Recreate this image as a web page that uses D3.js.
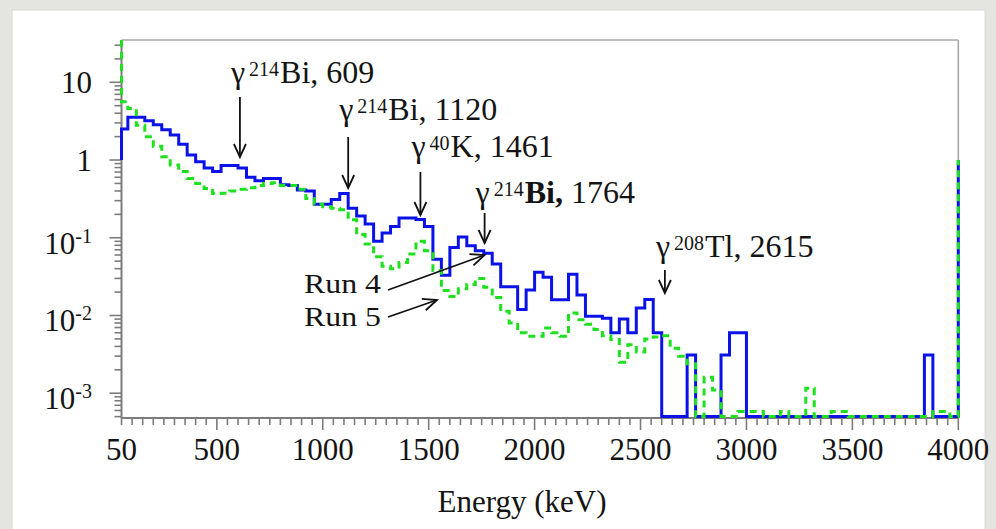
<!DOCTYPE html>
<html>
<head>
<meta charset="utf-8">
<script src="https://cdn.jsdelivr.net/npm/d3@7/dist/d3.min.js"></script>
<style>
  html, body { margin:0; padding:0; background:#e4e4e0; }
  svg { display:block; }
  text { font-family: "Liberation Serif", "Times New Roman", "DejaVu Serif", serif; fill:#141414; }
</style>
</head>
<body>
<svg id="chart" width="996" height="529"></svg>
<script>
// ---------------- DATA ----------------
// lower edges of the 40 keV energy bins (first bin clipped at 50 keV), upper end 4000 keV
const binLowEdges = [50,80,120,160,200,240,280,320,360,400,440,480,520,560,600,640,680,720,760,800,
  840,880,920,960,1000,1040,1080,1120,1160,1200,1240,1280,1320,1360,1400,1440,1480,1520,1560,1600,
  1640,1680,1720,1760,1800,1840,1880,1920,1960,2000,2040,2080,2120,2160,2200,2240,2280,2320,2360,2400,
  2440,2480,2520,2560,2600,2640,2680,2720,2760,2800,2840,2880,2920,2960,3000,3040,3080,3120,3160,3200,
  3240,3280,3320,3360,3400,3440,3480,3520,3560,3600,3640,3680,3720,3760,3800,3840,3880,3920,3960];
const energyMax = 4000;

// Run 4 (blue, solid)
const run4Values = [2.5,3.55,3.55,3.2,2.85,2.45,2.1,1.6,1.16,0.95,
  0.79,0.71,0.85,0.85,0.79,0.6,0.54,0.58,0.58,0.48,
  0.47,0.41,0.40,0.27,0.27,0.31,0.37,0.24,0.19,0.15,
  0.09,0.115,0.14,0.18,0.18,0.172,0.14,0.053,0.033,0.075,
  0.102,0.079,0.068,0.063,0.046,0.0234,0.0234,0.0119,0.0213,0.036,
  0.031,0.0159,0.0159,0.034,0.0184,0.0098,0.0098,0.0092,0.006,0.009,
  0.006,0.0125,0.016,0.006,0,0,0,0.0031,0,0,
  0,0.0031,0.006,0.006,0,0,0,0,0,0,
  0,0,0,0,0,0,0,0,0,0,
  0,0,0,0,0,0.0031,0,0,0];
// Run 5 (green, dashed)
const run5Values = [5.6,4.6,2.8,2.0,1.5,1.1,0.86,0.71,0.58,0.5,
  0.43,0.37,0.375,0.40,0.42,0.44,0.47,0.5,0.51,0.47,
  0.47,0.42,0.32,0.27,0.25,0.24,0.23,0.17,0.11,0.083,
  0.057,0.043,0.04,0.048,0.062,0.09,0.068,0.038,0.021,0.0175,
  0.022,0.025,0.030,0.023,0.017,0.0113,0.008,0.006,0.0054,0.0054,
  0.0069,0.006,0.0054,0.0108,0.0088,0.0077,0.0066,0.0055,0.0049,0.0025,
  0.0042,0.0034,0.005,0.0053,0.0055,0.0038,0.003,0.0024,0,0.0016,
  0.0011,0,0,0.00058,0.00058,0.00058,0,0,0.00058,0,
  0,0.00116,0,0,0.00058,0.00058,0,0,0,0,
  0,0,0,0,0,0,0.00058,0.00058,0];
// heights of the edge markers drawn at 50 keV and 4000 keV
const run4EdgeValues = [1.0, 1.0];
const run5EdgeValues = [40, 1.0];

const xTickValues = [50,500,1000,1500,2000,2500,3000,3500,4000];
const yTickValues = [10,1,0.1,0.01,0.001];
const yTickBases  = ["10","1","10","10","10"];
const yTickExps   = ["","","-1","-2","-3"];

// peak annotations: energy (keV), isotope mass number, element
const peakEnergies = [609,1120,1461,1764,2615];
const peakIsotopes = ["214","214","40","214","208"];
const peakElements = ["Bi","Bi","K","Bi","Tl"];
const runNames = ["Run 4","Run 5"];

// ---------------- LAYOUT ----------------
const svg = d3.select("#chart");
const plot = {left:121.5, right:958.3, top:40, bottom:418};
const x = d3.scaleLinear().domain([50, energyMax]).range([plot.left, plot.right]);
const y = d3.scaleLog().domain([4.8e-4, 35]).range([plot.bottom, plot.top]).clamp(true);
const floorVal = 5e-4;   // empty bins are drawn on the axis floor

// white panel
svg.append("rect").attr("x",12).attr("y",10).attr("width",973).attr("height",530)
  .attr("fill","#ffffff").attr("stroke","#d8d8d4").attr("stroke-width",1);

// frame (top / right)
const axisCol = "#7c7c7c";
svg.append("line").attr("x1",plot.left).attr("x2",plot.right).attr("y1",plot.top).attr("y2",plot.top)
  .attr("stroke","#a8a8a8").attr("stroke-width",1.6);
svg.append("line").attr("x1",plot.right).attr("x2",plot.right).attr("y1",plot.top).attr("y2",plot.bottom)
  .attr("stroke","#a8a8a8").attr("stroke-width",1.6);

// x axis ticks
const gx = svg.append("g");
const minorX = d3.range(50, energyMax + 1, 50);
gx.selectAll("line.minor").data(minorX).join("line")
  .attr("x1",d=>x(d)).attr("x2",d=>x(d)).attr("y1",plot.bottom)
  .attr("y2",d=> (d % 500 === 0) ? plot.bottom + 12 : plot.bottom + 7)
  .attr("stroke",axisCol).attr("stroke-width",1.6);
gx.selectAll("text").data(xTickValues).join("text")
  .attr("x",d=>x(d)).attr("y",460).attr("text-anchor","middle")
  .attr("font-size",31).text(d=>d);
svg.append("line").attr("x1",plot.left).attr("x2",plot.right).attr("y1",plot.bottom).attr("y2",plot.bottom)
  .attr("stroke",axisCol).attr("stroke-width",2);

// y axis ticks
const gy = svg.append("g");
const yMinor = [];
for (let d = -4; d <= 1; d++) for (let k = 1; k <= 9; k++) {
  const v = k * Math.pow(10, d);
  if (v >= y.domain()[0] && v <= y.domain()[1]) yMinor.push({v, major:k===1});
}
gy.selectAll("line").data(yMinor).join("line")
  .attr("x1",d=> d.major ? plot.left - 12 : plot.left - 7).attr("x2",plot.left)
  .attr("y1",d=>y(d.v)).attr("y2",d=>y(d.v))
  .attr("stroke",axisCol).attr("stroke-width",1.6);
svg.append("line").attr("x1",plot.left).attr("x2",plot.left).attr("y1",plot.top).attr("y2",plot.bottom)
  .attr("stroke",axisCol).attr("stroke-width",2);

yTickValues.forEach((v,i) => {
  const hasExp = yTickExps[i] !== "";
  const t = gy.append("text").attr("x",92).attr("y", y(v) + (hasExp ? 16 : 11))
    .attr("text-anchor","end").attr("font-size",31);
  t.append("tspan").text(yTickBases[i]);
  if (hasExp) t.append("tspan").attr("dy",-11).attr("font-size",20).text(yTickExps[i]);
});

// axis title
svg.append("text").attr("x",522).attr("y",512).attr("text-anchor","middle")
  .attr("font-size",31).text("Energy (keV)");

// ---------------- HISTOGRAMS ----------------
function stepPoints(vals, ends) {
  const pts = [[binLowEdges[0], ends[0]]];
  vals.forEach((v,i) => pts.push([binLowEdges[i], v]));
  pts.push([energyMax, vals[vals.length-1]]);
  pts.push([energyMax, ends[1]]);
  return pts;
}
const stepLine = d3.line()
  .x(d => x(d[0]))
  .y(d => y(Math.max(d[1], floorVal)))
  .curve(d3.curveStepAfter);

svg.append("path").attr("d", stepLine(stepPoints(run4Values, run4EdgeValues)))
  .attr("fill","none").attr("stroke","#0a12e8").attr("stroke-width",3)
  .attr("stroke-linejoin","miter");
svg.append("path").attr("d", stepLine(stepPoints(run5Values, run5EdgeValues)))
  .attr("fill","none").attr("stroke","#1fe01f").attr("stroke-width",3)
  .attr("stroke-dasharray","7,5");

// ---------------- ANNOTATIONS ----------------
function arrow(x1,y1,x2,y2,len,half) {
  const ang = Math.atan2(y2-y1, x2-x1);
  const bx = x2 - len*Math.cos(ang), by = y2 - len*Math.sin(ang);
  const px = -Math.sin(ang)*half, py = Math.cos(ang)*half;
  const g = svg.append("g").attr("stroke","#111").attr("stroke-width",1.8).attr("fill","none");
  g.append("line").attr("x1",x1).attr("y1",y1).attr("x2",x2).attr("y2",y2);
  g.append("path").attr("d",`M${bx+px},${by+py}L${x2},${y2}L${bx-px},${by-py}`);
}

// label baseline, arrow top, arrow tip (pixels)
const annLayout = [
  {base:83,  top:97,  tip:157, bold:false},
  {base:120, top:137, tip:188, bold:false},
  {base:157, top:172, tip:215, bold:false},
  {base:203, top:213, tip:243, bold:true},
  {base:257, top:270, tip:293, bold:false}
];
peakEnergies.forEach((e,i) => {
  const L = annLayout[i];
  const ax = x(e);
  const x0 = ax - 9;
  const t = svg.append("text").attr("x",x0).attr("y",L.base).attr("font-size",32);
  t.append("tspan").text("\u03b3");
  t.append("tspan").attr("dx",4).attr("dy",-7).attr("font-size",20).text(peakIsotopes[i]);
  t.append("tspan").attr("dx",1).attr("dy",7).attr("font-weight", L.bold ? "bold" : "normal")
    .text(peakElements[i] + ",");
  t.append("tspan").text(" " + e);
  arrow(ax, L.top, ax, L.tip, 13, 6);
});

// run labels
svg.append("text").attr("x",304).attr("y",293).attr("font-size",28)
  .attr("textLength",77).attr("lengthAdjust","spacingAndGlyphs").text(runNames[0]);
svg.append("text").attr("x",304).attr("y",326).attr("font-size",28)
  .attr("textLength",77).attr("lengthAdjust","spacingAndGlyphs").text(runNames[1]);
arrow(388, 290, x(1764), 255, 14, 6);
arrow(388, 317, 437, 300, 14, 6);
</script>
</body>
</html>
